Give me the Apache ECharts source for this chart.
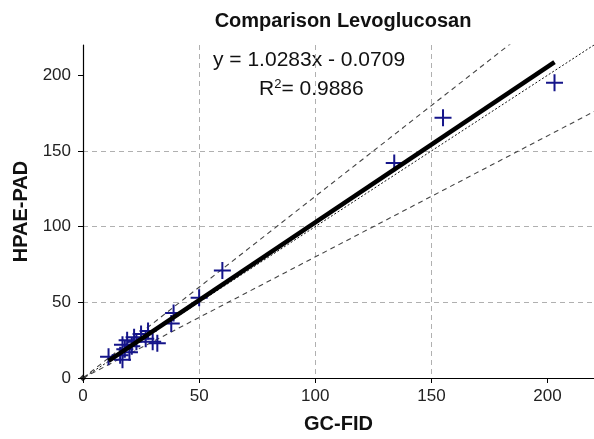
<!DOCTYPE html>
<html>
<head>
<meta charset="utf-8">
<script src="https://cdn.jsdelivr.net/npm/echarts@6.0.0/dist/echarts.min.js"></script>
<style>
  html, body { margin: 0; padding: 0; background: #fff; }
  #main { width: 594px; height: 439px; }
</style>
</head>
<body>
<div id="main"></div>
<script>
// GC-FID vs HPAE-PAD (ng/m3)
var gcFid = [11, 16, 17, 17, 18, 19, 20, 21, 22, 23, 25, 27, 28, 30, 32, 38, 39, 50, 60, 134, 155, 203];
var hpaePad = [14, 15, 12, 22, 19, 25, 17, 21, 27, 24, 29, 26, 31, 24, 23, 36, 43, 53, 71, 142, 172, 195];

var fitSlope = 1.0283;
var fitIntercept = -0.0709;
var fitRange = [11, 203];
var refSlopes = [1.2, 1, 0.8];
var ticks = [0, 50, 100, 150, 200];

var points = gcFid.map(function (x, i) {
  return [x, hpaePad[i]];
});
var fitLine = fitRange.map(function (x) {
  return [x, fitSlope * x + fitIntercept];
});
function refLine(k) {
  return [[0, 0], [260, 260 * k]];
}

var plus = 'path://M7.5,0h2v7.5h7.5v2h-7.5v7.5h-2v-7.5h-7.5v-2h7.5z';
var font = 'Liberation Sans, Arial, sans-serif';

var chartDom = document.getElementById('main');
var myChart = echarts.init(chartDom);

function axis(name, gap) {
  return {
    type: 'value',
    min: 0,
    max: 220,
    interval: 50,
    name: name,
    nameLocation: 'middle',
    nameGap: gap,
    nameTextStyle: { fontFamily: font, fontSize: 20, fontWeight: 'bold', color: '#111' },
    axisLine: { show: true, onZero: false, lineStyle: { color: '#000', width: 1.2 } },
    axisTick: { show: true, length: 5, customValues: ticks, lineStyle: { color: '#000' } },
    axisLabel: { customValues: ticks, fontFamily: font, fontSize: 17, color: '#222', margin: 10 },
    splitLine: {
      show: true,
      showMinLine: false,
      showMaxLine: false,
      lineStyle: { color: '#b0b0b0', type: [5, 4], width: 1 }
    }
  };
}

var xAxis = axis('GC-FID', 36);
var yAxis = axis('HPAE-PAD', 46);
yAxis.axisLabel.margin = 12;

myChart.setOption({
  animation: false,
  backgroundColor: '#fff',
  title: {
    text: 'Comparison Levoglucosan',
    left: 338,
    top: 6,
    textAlign: 'center',
    textStyle: { fontFamily: font, fontSize: 20, fontWeight: 'bold', color: '#111' }
  },
  grid: { left: 83, right: -8, top: 45, bottom: 57 },
  xAxis: xAxis,
  yAxis: yAxis,
  graphic: [
    {
      type: 'text',
      left: 213,
      top: 50,
      style: { text: 'y = 1.0283x - 0.0709', font: '21px ' + font, fill: '#111' }
    },
    {
      type: 'text',
      left: 259,
      top: 78,
      style: {
        text: 'R{sup|2}= 0.9886',
        font: '21px ' + font,
        fill: '#111',
        rich: { sup: { fontSize: 13, verticalAlign: 'top', padding: [0, 0, 10, 0], fontFamily: font } }
      }
    }
  ],
  series: [
    {
      type: 'line',
      data: refLine(refSlopes[0]),
      symbol: 'none',
      silent: true,
      lineStyle: { color: '#444', width: 1.1, type: [5, 4] }
    },
    {
      type: 'line',
      data: refLine(refSlopes[2]),
      symbol: 'none',
      silent: true,
      lineStyle: { color: '#444', width: 1.1, type: [5, 4] }
    },
    {
      type: 'line',
      data: refLine(refSlopes[1]),
      symbol: 'none',
      silent: true,
      lineStyle: { color: '#111', width: 1, type: [2, 2] }
    },
    {
      type: 'scatter',
      data: [[0, 0]],
      symbol: 'diamond',
      symbolSize: 7,
      itemStyle: { color: '#000' },
      silent: true
    },
    {
      type: 'scatter',
      data: points,
      symbol: plus,
      symbolSize: 17,
      itemStyle: { color: '#15158a', opacity: 1 },
      z: 3
    },
    {
      type: 'line',
      data: fitLine,
      symbol: 'none',
      silent: true,
      lineStyle: { color: '#000', width: 4.5 },
      z: 4
    }
  ]
});
</script>
</body>
</html>
